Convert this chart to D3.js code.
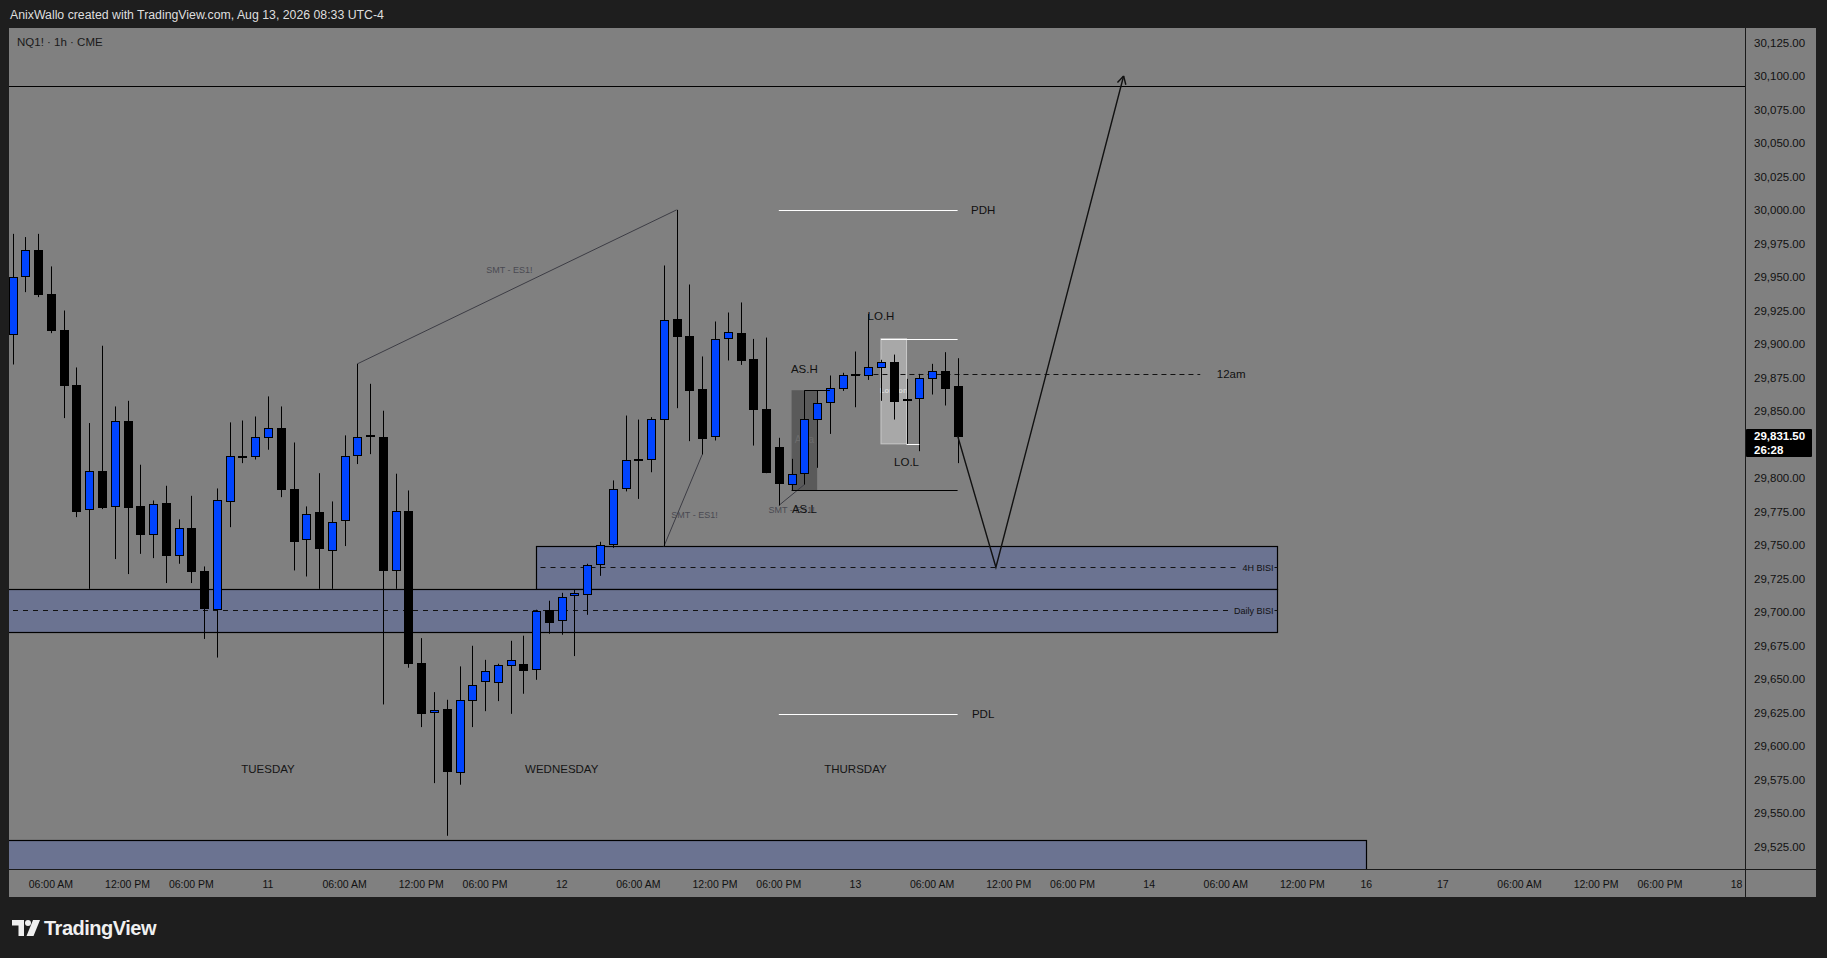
<!DOCTYPE html>
<html><head><meta charset="utf-8">
<script src="https://cdn.jsdelivr.net/npm/d3@7/dist/d3.min.js"></script>
<style>html,body{margin:0;padding:0;background:#1e1e1e;overflow:hidden}svg{display:block}</style>
</head><body>
<svg id="c" width="1827" height="958"></svg>
<script>
// ---------- DATA ----------
const firstBar = -20; // bar index of first candle (0 = Aug 11 00:00, hourly, trading-time)
const opens = [
29907.6,29950.9,29970.3,29937.5,29910.6,29869.6,29777.0,29805.4,29778.8,29842.7,
29778.8,29757.9,29781.5,29742.9,29762.8,29730.8,29702.4,29783.0,29816.6,29816.6,
29830.8,29837.5,29791.7,29754.6,29774.8,29746.4,29768.8,29817.3,29831.8,29830.8,
29731.0,29775.0,29661.9,29625.5,29627.8,29580.5,29634.5,29648.7,29647.9,29660.6,
29661.4,29657.6,29701.7,29693.7,29712.8,29713.6,29736.0,29750.9,29792.6,29814.0,
29814.3,29844.1,29918.8,29905.6,29866.5,29831.2,29904.6,29908.3,29888.9,29851.6,
29823.5,29795.6,29803.8,29844.1,29856.8,29867.3,29877.5,29877.0,29883.2,29886.9,
29858.6,29859.8,29874.8,29880.2,29868.3];
const highs = [
29982.2,29979.8,29982.2,29957.9,29925.0,29882.5,29841.0,29898.7,29853.4,29857.6,
29809.9,29783.2,29794.2,29769.1,29786.7,29734.0,29792.2,29841.5,29842.9,29845.9,
29860.9,29853.4,29826.5,29778.8,29803.6,29782.5,29831.8,29885.2,29870.3,29850.2,
29803.2,29790.7,29680.5,29640.2,29634.5,29659.4,29674.8,29664.3,29661.4,29678.5,
29682.3,29701.7,29708.4,29714.3,29716.6,29736.0,29752.4,29798.2,29846.6,29843.6,
29845.4,29958.6,30000.1,29944.4,29890.7,29916.8,29923.5,29931.0,29903.8,29904.8,
29830.0,29814.3,29865.3,29865.3,29876.5,29878.5,29894.4,29922.5,29888.2,29892.1,
29874.0,29877.7,29885.2,29893.9,29889.4];
const lows = [
29884.7,29938.7,29935.0,29908.1,29844.7,29770.8,29717.3,29776.8,29739.5,29728.3,
29743.4,29740.2,29721.6,29736.0,29721.6,29679.9,29666.0,29763.3,29811.1,29813.8,
29821.1,29785.7,29731.0,29726.5,29717.3,29717.3,29749.2,29810.4,29817.8,29631.0,
29717.3,29658.4,29614.1,29572.3,29533.0,29571.1,29614.1,29626.0,29633.5,29624.0,
29639.0,29649.4,29683.8,29683.0,29667.1,29697.9,29727.0,29747.9,29790.0,29784.4,
29804.3,29748.9,29852.1,29827.5,29817.5,29828.0,29887.7,29884.4,29824.2,29803.6,
29779.5,29790.7,29795.1,29807.6,29832.9,29865.0,29852.8,29873.2,29857.6,29843.6,
29825.5,29820.0,29862.3,29854.1,29811.1];
const closes = [
29949.9,29970.3,29937.5,29910.6,29869.6,29775.5,29805.4,29778.3,29842.7,29778.3,
29758.4,29780.8,29742.7,29762.8,29730.8,29703.2,29783.7,29816.6,29816.2,29830.8,
29837.5,29791.7,29752.9,29773.3,29747.7,29767.3,29816.6,29830.8,29831.3,29731.0,
29775.5,29661.9,29624.8,29627.0,29581.3,29634.5,29645.7,29656.1,29660.6,29664.3,
29656.9,29700.9,29692.7,29711.4,29714.3,29735.2,29750.2,29792.0,29813.5,29813.5,
29844.1,29918.0,29905.8,29866.0,29829.7,29903.8,29908.8,29888.2,29851.4,29804.3,
29796.1,29803.1,29844.1,29856.1,29867.3,29877.0,29877.0,29882.7,29886.4,29857.8,
29858.3,29874.8,29880.2,29867.3,29831.5];

const timeTickBars   = [-17,-11,-6,0,6,12,17,23,29,35,40,46,52,58,63,69,75,81,86,92,98,104,109,115];
const timeTickLabels = ["06:00 AM","12:00 PM","06:00 PM","11","06:00 AM","12:00 PM","06:00 PM","12",
  "06:00 AM","12:00 PM","06:00 PM","13","06:00 AM","12:00 PM","06:00 PM","14","06:00 AM","12:00 PM",
  "16","17","06:00 AM","12:00 PM","06:00 PM","18"];
const priceTicks = [30125,30100,30075,30050,30025,30000,29975,29950,29925,29900,29875,29850,29800,
  29775,29750,29725,29700,29675,29650,29625,29600,29575,29550,29525];

const dayLabels = ["TUESDAY","WEDNESDAY","THURSDAY"];
const dayLabelBars = [0,23,46];
const dayLabelPrice = 29582.5;

// zones [fromBar, toBar, lowPrice, highPrice, midPrice, label]
const zoneNames  = ["4H BISI","Daily BISI",""];
const zoneFrom   = [21,-30,-30];
const zoneTo     = [79,79,86];
const zoneLow    = [29717.5,29685.0,29480];
const zoneHigh   = [29749.3,29717.5,29530.2];
const zoneMid    = [29733.4,29701.2,null];

const smtFrom = [[7,29885.2],[31,29748.9],[40,29779.5]];
const smtTo   = [[32,30000.1],[34,29817.5],[42,29795.1]];
const smtText = [[18.9,29955.5],[33.4,29772.3],[41.0,29776.5]];

const targetLevel = 30092.7;
const pdh = 30000.0, pdl = 29623.6;
const levelFrom = 40, levelTo = 54;
const midnightOpen = 29877.5;
const asiaHigh = 29865.5, asiaLow = 29791.0;
const londonHigh = 29903.9, londonLow = 29825.5;
const projection = [[54,29831.5],[57,29733.4],[67,30100.0]];
const lastPrice = 29831.5, countdown = "26:28";

// ---------- LAYOUT ----------
const W = 1827, H = 958;
const panel = {l:9, t:28, r:1816, b:897};
const plot = {l:9, t:28, r:1745, b:869};
const FONT = "'Liberation Sans', Arial, sans-serif";

const x = d3.scaleLinear().domain([0,115]).range([268,1736.6]);
const y = d3.scaleLinear().domain([29525,30125]).range([846.5,42.5]);

const svg = d3.select("#c");
svg.append("rect").attr("width",W).attr("height",H).attr("fill","#1e1e1e");
svg.append("rect").attr("x",panel.l).attr("y",panel.t).attr("width",panel.r-panel.l).attr("height",panel.b-panel.t).attr("fill","#808080");

svg.append("text").attr("x",10).attr("y",19).attr("fill","#dedede").attr("font-family",FONT)
  .attr("font-size",12.3).text("AnixWallo created with TradingView.com, Aug 13, 2026 08:33 UTC-4");

svg.append("defs").append("clipPath").attr("id","pc").append("rect")
  .attr("x",plot.l).attr("y",plot.t).attr("width",plot.r-plot.l).attr("height",plot.b-plot.t);
const g = svg.append("g").attr("clip-path","url(#pc)");

const px = v => Math.round(v)+0.5;

// zones
zoneLow.forEach((lo,i)=>{
  const x0 = px(x(zoneFrom[i])), x1 = px(x(zoneTo[i])), y0 = px(y(zoneHigh[i])), y1 = px(y(lo));
  g.append("rect").attr("x",x0).attr("y",y0).attr("width",x1-x0).attr("height",y1-y0)
    .attr("fill","#6b7391").attr("stroke","#000").attr("stroke-width",1.2);
  if (zoneMid[i]!==null){
    const ym = px(y(zoneMid[i]));
    const tw = zoneNames[i]==="4H BISI" ? 34 : 42;
    g.append("line").attr("x1",Math.max(x0,plot.l)+4).attr("x2",x1-tw-4).attr("y1",ym).attr("y2",ym)
      .attr("stroke","#111").attr("stroke-dasharray","5,5");
    g.append("line").attr("x1",x1-3).attr("x2",x1).attr("y1",ym).attr("y2",ym).attr("stroke","#111");
    g.append("text").attr("x",x1-4).attr("y",ym).attr("dy","0.35em").attr("text-anchor","end")
      .attr("font-family",FONT).attr("font-size",9).attr("fill","#111").text(zoneNames[i]);
  }
});

// target horizontal level
g.append("line").attr("x1",plot.l).attr("x2",plot.r).attr("y1",px(y(targetLevel))).attr("y2",px(y(targetLevel)))
  .attr("stroke","#000").attr("stroke-width",1);

// Asia box
{
  const x0=x(41), x1=x(43), y0=y(asiaHigh), y1=y(asiaLow);
  g.append("rect").attr("x",x0).attr("y",y0).attr("width",x1-x0).attr("height",y1-y0).attr("fill","#5a5a5a");
  g.append("text").attr("x",x(42)).attr("y",y(29828.4)).attr("dy","0.35em").attr("text-anchor","middle")
    .attr("font-family",FONT).attr("font-size",10).attr("fill","#6c6c6c").text("Asia");
}
// London box
{
  const x0=x(48), x1=x(50), y0=y(londonHigh), y1=y(londonLow);
  g.append("rect").attr("x",x0).attr("y",y0).attr("width",x1-x0).attr("height",y1-y0)
    .attr("fill","#a8a8a8").attr("stroke","#c8c8c8").attr("stroke-width",1);
  g.append("text").attr("x",x(49)).attr("y",y(29865.1)).attr("dy","0.35em").attr("text-anchor","middle")
    .attr("font-family",FONT).attr("font-size",7.5).attr("font-weight","bold").attr("fill","#d8d8d8").text("London");
}

// PDH / PDL
[[pdh,"PDH"],[pdl,"PDL"]].forEach(([p,t])=>{
  g.append("line").attr("x1",x(levelFrom)).attr("x2",x(levelTo)).attr("y1",px(y(p))).attr("y2",px(y(p)))
    .attr("stroke","#fff").attr("stroke-width",1.2);
  g.append("text").attr("x",x(56)).attr("y",y(p)).attr("dy","0.35em").attr("text-anchor","middle")
    .attr("font-family",FONT).attr("font-size",11.5).attr("fill","#111").text(t);
});

// midnight open dashed
g.append("line").attr("x1",x(46)).attr("x2",x(73)).attr("y1",px(y(midnightOpen))).attr("y2",px(y(midnightOpen)))
  .attr("stroke","#111").attr("stroke-dasharray","5,4");
g.append("text").attr("x",x(74.3)).attr("y",y(midnightOpen)).attr("dy","0.35em")
  .attr("font-family",FONT).attr("font-size",11.5).attr("fill","#111").text("12am");

// SMT lines
smtFrom.forEach((a,i)=>{
  const b = smtTo[i];
  g.append("line").attr("x1",x(a[0])).attr("y1",y(a[1])).attr("x2",x(b[0])).attr("y2",y(b[1]))
    .attr("stroke","#3c3c44").attr("stroke-width",1);
  g.append("text").attr("x",x(smtText[i][0])).attr("y",y(smtText[i][1])).attr("dy","0.35em").attr("text-anchor","middle")
    .attr("font-family",FONT).attr("font-size",9).attr("fill","#4a4a52").text("SMT - ES1!");
});

// day labels
dayLabels.forEach((d,i)=>{
  g.append("text").attr("x",x(dayLabelBars[i])).attr("y",y(dayLabelPrice)).attr("dy","0.35em").attr("text-anchor","middle")
    .attr("font-family",FONT).attr("font-size",11.5).attr("fill","#151515").text(d);
});

// candles
const candles = opens.map((o,i)=>({bar:firstBar+i,o,h:highs[i],l:lows[i],c:closes[i]}));
const cg = g.append("g");
candles.forEach(d=>{
  const cx = Math.round(x(d.bar));
  cg.append("line").attr("x1",cx+0.5).attr("x2",cx+0.5).attr("y1",y(d.h)).attr("y2",y(d.l))
    .attr("stroke","#000").attr("stroke-width",1);
  const top = Math.round(y(Math.max(d.o,d.c))), bot = Math.round(y(Math.min(d.o,d.c)));
  const hgt = Math.max(bot-top,1);
  cg.append("rect").attr("x",cx-3.5).attr("y",top+0.5).attr("width",8).attr("height",hgt)
    .attr("fill", d.c>=d.o ? "#0044ff" : "#000").attr("stroke","#000").attr("stroke-width",1);
});

// session annotations (on top of candles)
g.append("line").attr("x1",x(42)).attr("x2",x(44)).attr("y1",px(y(asiaHigh))).attr("y2",px(y(asiaHigh))).attr("stroke","#000");
g.append("line").attr("x1",x(41)).attr("x2",x(54)).attr("y1",px(y(asiaLow))).attr("y2",px(y(asiaLow))).attr("stroke","#000");
g.append("text").attr("x",x(42)).attr("y",y(29881.3)).attr("dy","0.35em").attr("text-anchor","middle")
  .attr("font-family",FONT).attr("font-size",11.5).attr("fill","#111").text("AS.H");
g.append("text").attr("x",x(42)).attr("y",y(29777.2)).attr("dy","0.35em").attr("text-anchor","middle")
  .attr("font-family",FONT).attr("font-size",11.5).attr("fill","#111").text("AS.L");
g.append("line").attr("x1",x(48)).attr("x2",x(54)).attr("y1",px(y(londonHigh))).attr("y2",px(y(londonHigh))).attr("stroke","#fff");
g.append("line").attr("x1",x(50)).attr("x2",x(51)).attr("y1",px(y(londonLow))).attr("y2",px(y(londonLow))).attr("stroke","#fff");
g.append("text").attr("x",x(48)).attr("y",y(29920.9)).attr("dy","0.35em").attr("text-anchor","middle")
  .attr("font-family",FONT).attr("font-size",11.5).attr("fill","#111").text("LO.H");
g.append("text").attr("x",x(50)).attr("y",y(29812.3)).attr("dy","0.35em").attr("text-anchor","middle")
  .attr("font-family",FONT).attr("font-size",11.5).attr("fill","#111").text("LO.L");

// projection path with arrow
const line = d3.line().x(d=>x(d[0])).y(d=>y(d[1]));
g.append("path").attr("d",line(projection)).attr("fill","none").attr("stroke","#111").attr("stroke-width",1.4);
{
  const p1 = projection[projection.length-2], p2 = projection[projection.length-1];
  const ax = x(p2[0]), ay = y(p2[1]);
  const ang = Math.atan2(y(p1[1])-ay, x(p1[0])-ax);
  const L = 9;
  [0.5,-0.5].forEach(da=>{
    g.append("line").attr("x1",ax).attr("y1",ay).attr("x2",ax+L*Math.cos(ang+da)).attr("y2",ay+L*Math.sin(ang+da))
      .attr("stroke","#111").attr("stroke-width",1.4);
  });
}

// symbol label
svg.append("text").attr("x",17).attr("y",46).attr("font-family",FONT).attr("font-size",11.5).attr("fill","#1a1a1a")
  .text("NQ1! \u00b7 1h \u00b7 CME");

// axes separators
svg.append("line").attr("x1",plot.r+0.5).attr("x2",plot.r+0.5).attr("y1",panel.t).attr("y2",panel.b).attr("stroke","#1a1a1a");
svg.append("line").attr("x1",panel.l).attr("x2",panel.r).attr("y1",plot.b+0.5).attr("y2",plot.b+0.5).attr("stroke","#1a1a1a").attr("stroke-width",1.2);

// price axis
const pa = svg.append("g");
priceTicks.forEach(p=>{
  pa.append("text").attr("x",1754).attr("y",y(p)).attr("dy","0.35em").attr("font-family",FONT)
    .attr("font-size",11.5).attr("fill","#111").text(d3.format(",.2f")(p));
});
// last price tag
{
  const yy = y(lastPrice);
  pa.append("rect").attr("x",1746).attr("y",Math.round(yy)-7).attr("width",66).attr("height",28).attr("fill","#000").attr("rx",1);
  pa.append("text").attr("x",1754).attr("y",yy).attr("dy","0.35em").attr("font-family",FONT).attr("font-size",11.5)
    .attr("font-weight","bold").attr("fill","#fff").text(d3.format(",.2f")(lastPrice));
  pa.append("text").attr("x",1754).attr("y",yy+14).attr("dy","0.35em").attr("font-family",FONT).attr("font-size",11.5)
    .attr("font-weight","bold").attr("fill","#fff").text(countdown);
}

// time axis
const ta = svg.append("g");
timeTickBars.forEach((b,i)=>{
  ta.append("text").attr("x",x(b)).attr("y",884).attr("dy","0.35em").attr("text-anchor","middle")
    .attr("font-family",FONT).attr("font-size",10.5).attr("fill","#111").text(timeTickLabels[i]);
});

// TradingView logo
{
  const lg = svg.append("g").attr("fill","#f0f0f0");
  lg.append("path").attr("d","M12 920 H24 V936 H18.5 V925.5 H12 Z");
  lg.append("circle").attr("cx",28).attr("cy",923).attr("r",3);
  lg.append("path").attr("d","M33 920 H40 L33.5 936 H26.5 Z");
  lg.append("text").attr("x",44).attr("y",935).attr("font-family",FONT).attr("font-size",20).attr("font-weight","bold")
    .attr("letter-spacing","-0.5").attr("fill","#f0f0f0").text("TradingView");
}
</script>
</body></html>
